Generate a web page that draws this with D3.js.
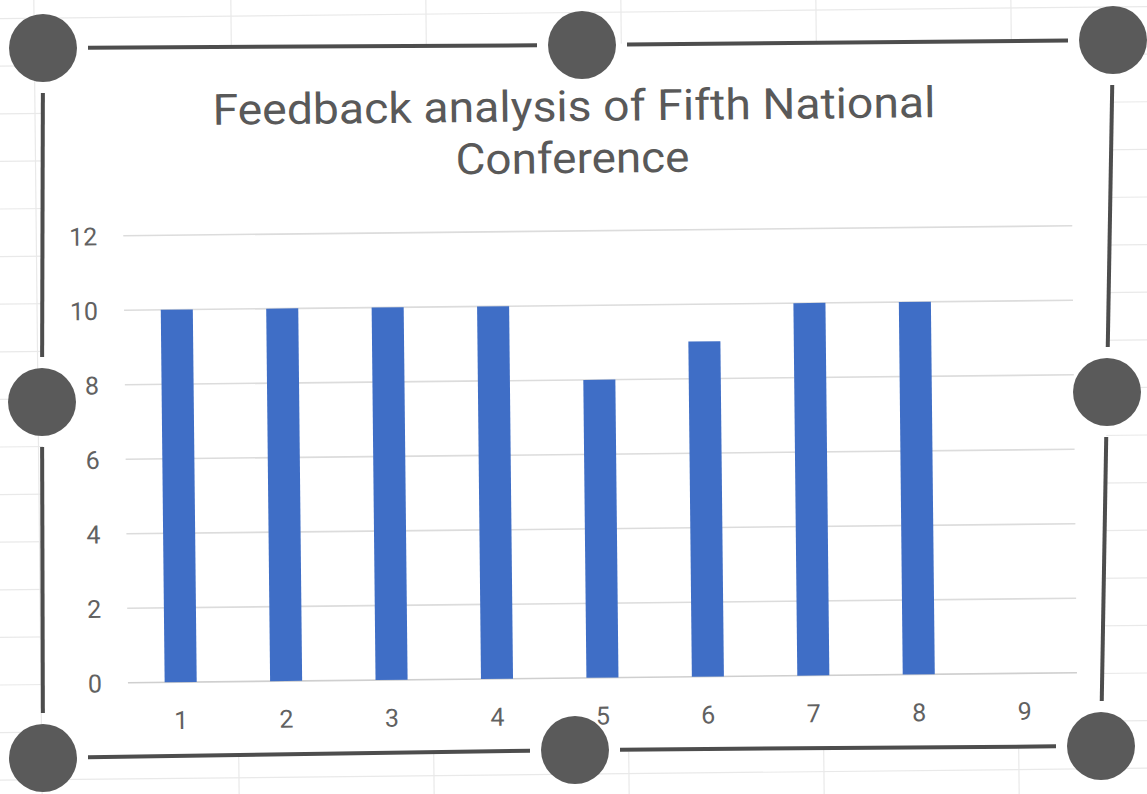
<!DOCTYPE html>
<html>
<head>
<meta charset="utf-8">
<script src="https://cdn.jsdelivr.net/npm/d3@7"></script>
<style>
  html, body { margin: 0; padding: 0; background: #ffffff; }
  svg { display: block; }
</style>
</head>
<body>
<div id="chart"></div>
<script>
// ---- data ----
const titleLines = ["Feedback analysis of Fifth National", "Conference"];
const categories = ["1", "2", "3", "4", "5", "6", "7", "8", "9"];
const values = [10, 10, 10, 10, 8, 9, 10, 10, null];
const yTicks = [0, 2, 4, 6, 8, 10, 12];

// ---- layout ----
const W = 1147, H = 794;
const FONT = "Roboto, 'Noto Sans', sans-serif";
const plot = { left: 125, right: 1074, top: 231, bottom: 678 };

// selection handles (screen positions, photo is in perspective)
const handlePts = {
  TL: [43, 48], TM: [582, 45], TR: [1113, 40],
  ML: [42, 402], MR: [1107, 392],
  BL: [43, 758], BM: [575, 750], BR: [1101, 746]
};
const frameSegs = [["TL", "TM"], ["TM", "TR"], ["BL", "BM"], ["BM", "BR"],
                   ["TL", "ML"], ["ML", "BL"], ["TR", "MR"], ["MR", "BR"]];

const svg = d3.select("#chart").append("svg")
  .attr("width", W).attr("height", H)
  .style("font-family", FONT);

// faint spreadsheet grid in background
const bg = svg.append("g").attr("transform", "rotate(-0.6, 573, 397)");
const bgH = d3.range(-35, 820, 47.6);
const bgV = [38, 235, 430, 625, 820, 1015];
bg.selectAll("line.bgh").data(bgH).join("line")
  .attr("x1", -20).attr("x2", W + 20).attr("y1", d => d).attr("y2", d => d)
  .attr("stroke", "#e9e9e9").attr("stroke-width", 1.2);
bg.selectAll("line.bgv").data(bgV).join("line")
  .attr("x1", d => d).attr("x2", d => d).attr("y1", -20).attr("y2", H + 20)
  .attr("stroke", "#e9e9e9").attr("stroke-width", 1.2);

// white chart area (quad through the corner handles)
const P = handlePts;
svg.append("polygon")
  .attr("points", [P.TL, P.TR, P.BR, P.BL].map(p => p.join(",")).join(" "))
  .attr("fill", "#ffffff");

const g = svg.append("g").attr("transform", "rotate(-0.6, 573, 397)");

// scales
const x = d3.scaleBand().domain(categories)
  .range([plot.left, plot.right]).paddingInner(0.696).paddingOuter(0.348);
const y = d3.scaleLinear().domain([0, 12]).range([plot.bottom, plot.top]);

// gridlines
g.append("g").selectAll("line.grid").data(yTicks).join("line")
  .attr("x1", plot.left).attr("x2", plot.right)
  .attr("y1", d => y(d)).attr("y2", d => y(d))
  .attr("stroke", d => d === 0 ? "#cfcfcf" : "#dcdcdc").attr("stroke-width", 1.6);

// y axis labels
const yAxis = d3.axisLeft(y).tickValues(yTicks).tickSize(0).tickPadding(0);
const yG = g.append("g").attr("transform", `translate(${plot.left - 26},0)`).call(yAxis)
  .attr("font-family", FONT);
yG.select(".domain").remove();
yG.selectAll("text").attr("fill", "#616161").style("font-size", "25px")
  .style("font-family", FONT).attr("dy", "0.36em");

// x axis labels
const xAxis = d3.axisBottom(x).tickSize(0).tickPadding(0);
const xG = g.append("g").attr("transform", `translate(0,${plot.bottom + 29})`).call(xAxis)
  .attr("font-family", FONT);
xG.select(".domain").remove();
xG.selectAll("text").attr("fill", "#616161").style("font-size", "25px")
  .style("font-family", FONT).attr("dy", "0.71em");

// bars
g.append("g").selectAll("rect.bar")
  .data(categories.map((c, i) => ({ c, v: values[i] })).filter(d => d.v != null))
  .join("rect")
  .attr("x", d => x(d.c)).attr("width", x.bandwidth())
  .attr("y", d => y(d.v)).attr("height", d => y(0) - y(d.v))
  .attr("fill", "#3f6ec6");

// title
const tl = g.append("g").attr("fill", "#595959").style("font-size", "43px")
  .attr("text-anchor", "middle");
tl.append("text").attr("x", 577).attr("y", 121).text(titleLines[0])
  .attr("textLength", 723).attr("lengthAdjust", "spacingAndGlyphs");
tl.append("text").attr("x", 575).attr("y", 173).text(titleLines[1])
  .attr("textLength", 234).attr("lengthAdjust", "spacingAndGlyphs");

// selection frame with handles
const gap = 45;
const segs = frameSegs.map(([a, b]) => {
  const [x1, y1] = P[a], [x2, y2] = P[b];
  const len = Math.hypot(x2 - x1, y2 - y1);
  const ux = (x2 - x1) / len, uy = (y2 - y1) / len;
  return [x1 + ux * gap, y1 + uy * gap, x2 - ux * gap, y2 - uy * gap];
});
svg.append("g").selectAll("line.frame").data(segs).join("line")
  .attr("x1", d => d[0]).attr("y1", d => d[1]).attr("x2", d => d[2]).attr("y2", d => d[3])
  .attr("stroke", "#4d4d4d").attr("stroke-width", 4);

svg.append("g").selectAll("circle").data(Object.values(P)).join("circle")
  .attr("cx", d => d[0]).attr("cy", d => d[1]).attr("r", 34)
  .attr("fill", "#5a5a5a");
</script>
</body>
</html>
